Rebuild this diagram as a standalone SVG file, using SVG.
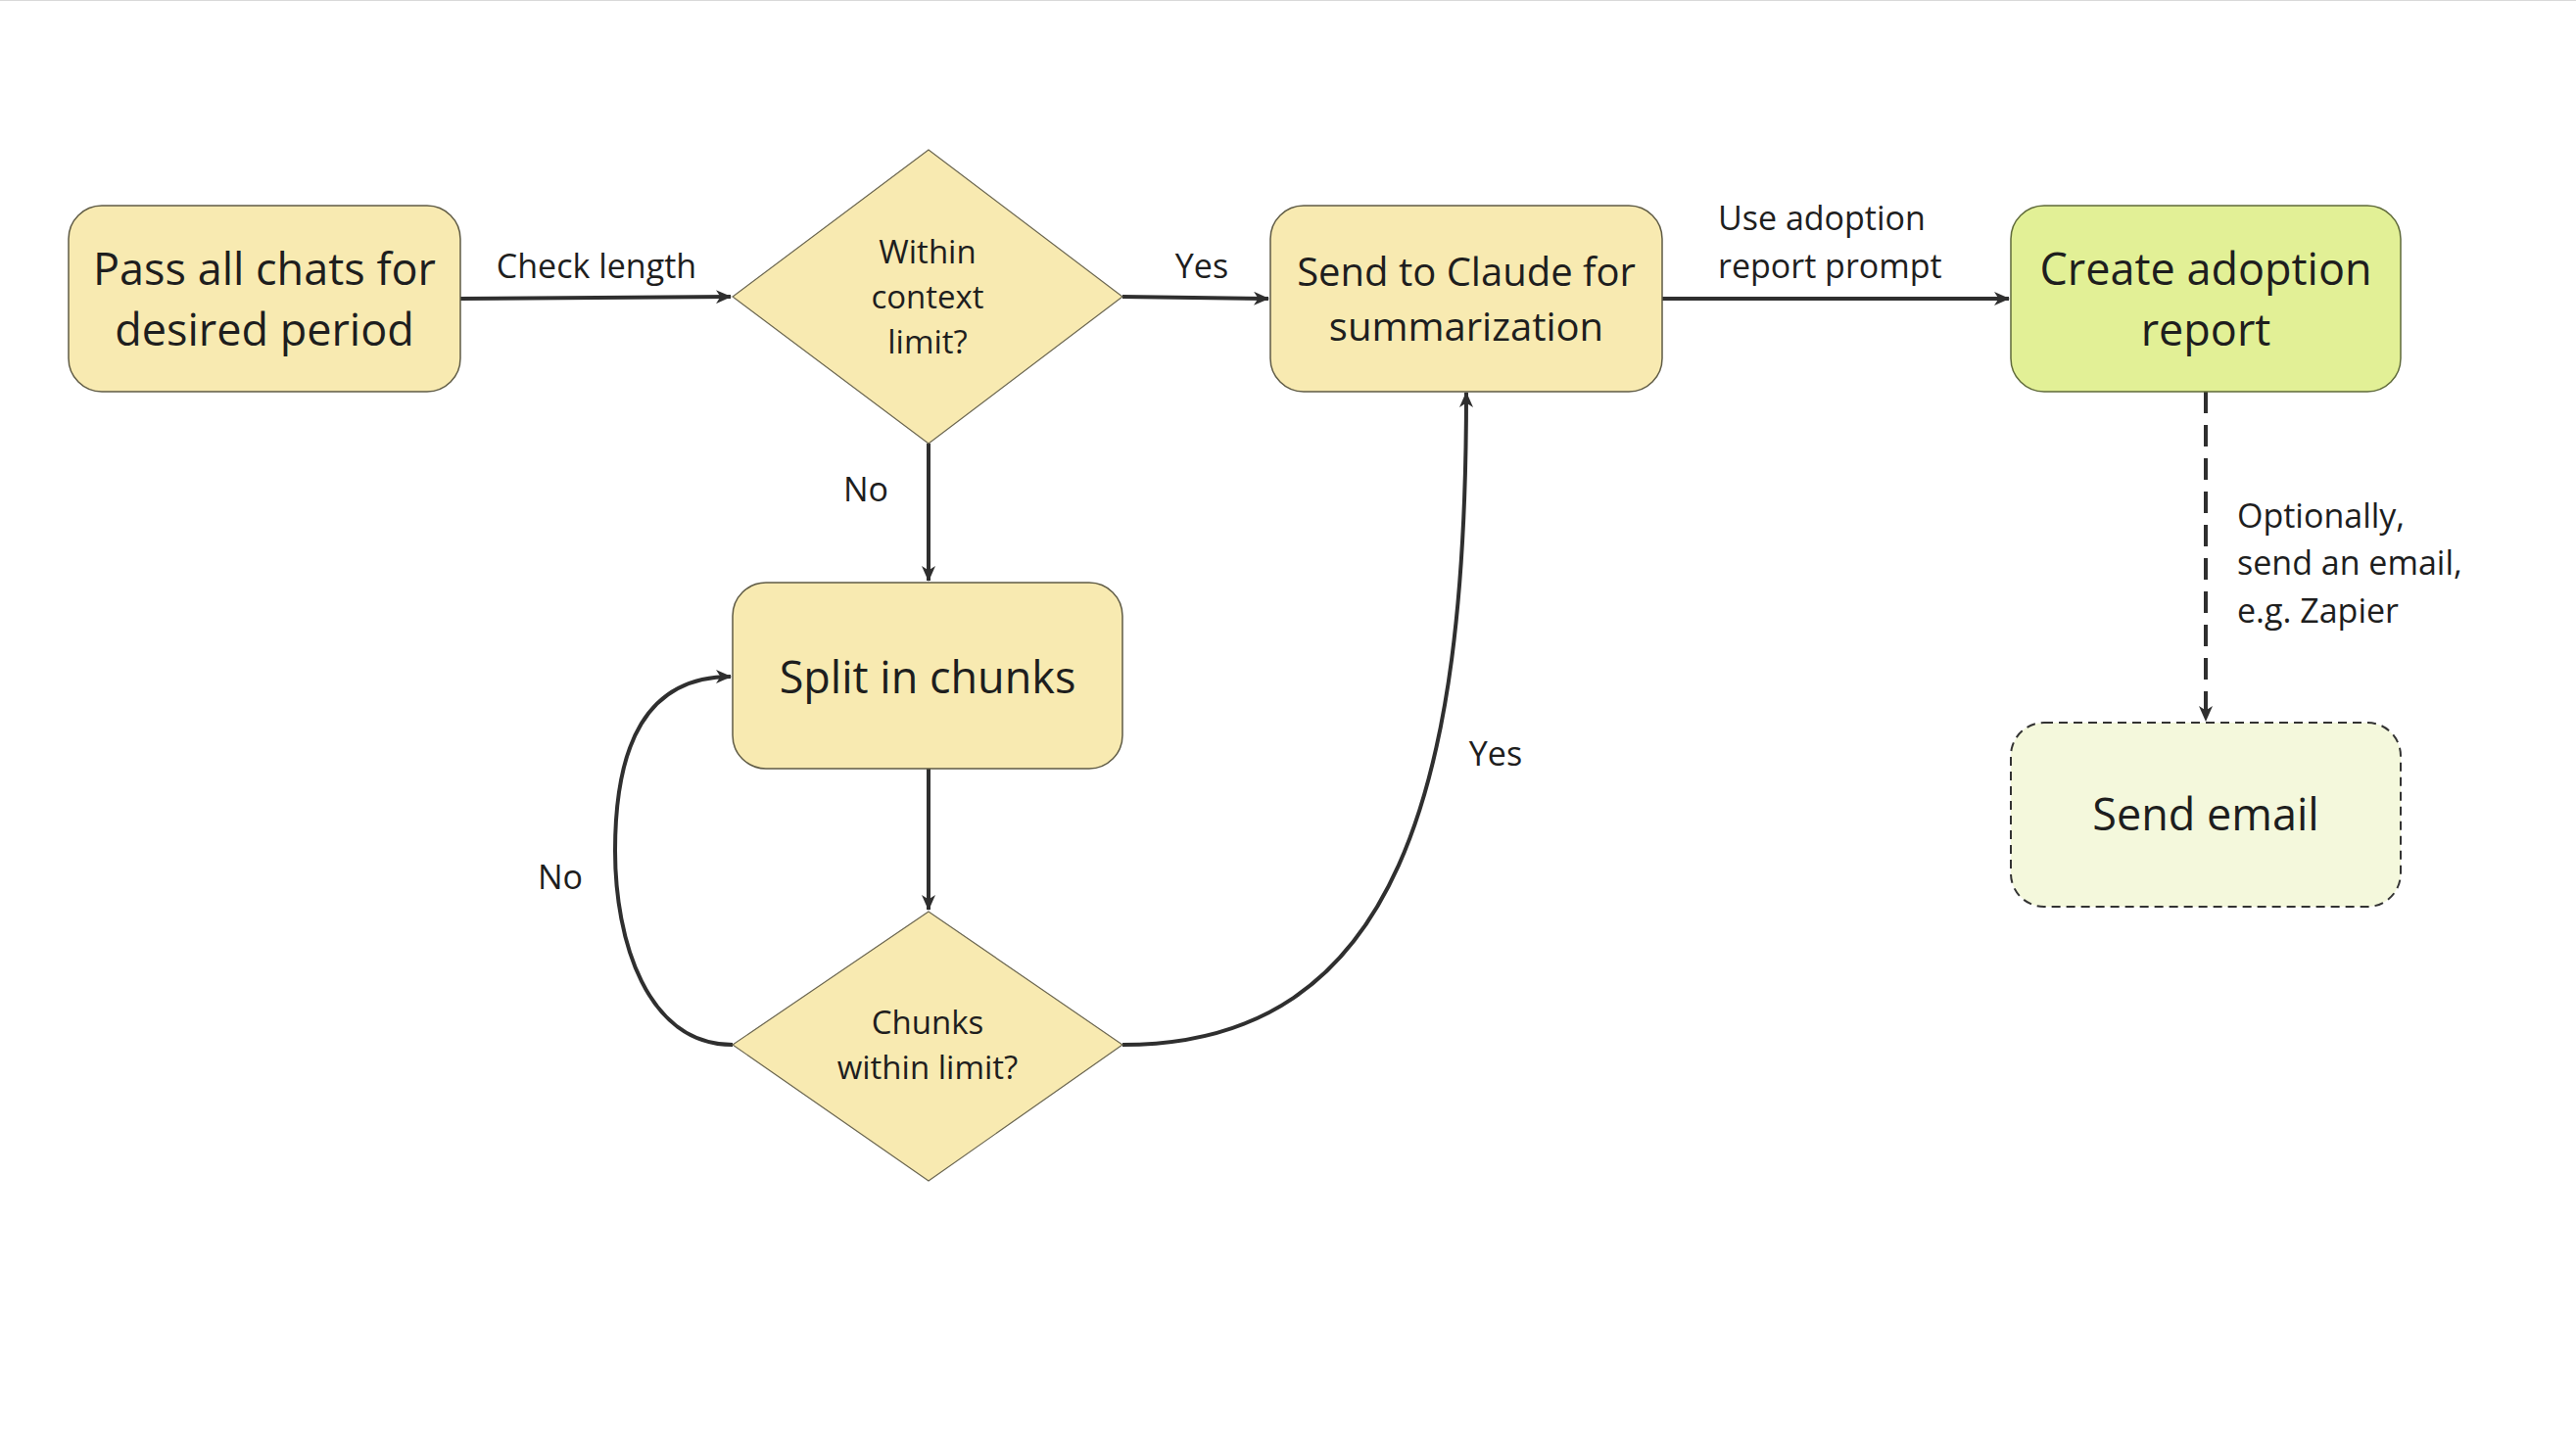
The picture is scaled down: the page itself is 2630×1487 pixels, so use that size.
<svg xmlns="http://www.w3.org/2000/svg" width="2630" height="1487" viewBox="0 0 2630 1487">
<style>
text{font-family:"Open Sans","Noto Sans","Liberation Sans",sans-serif;fill:#1e1e1e}
.n{font-size:45px;text-anchor:middle}
.c{font-size:40px;text-anchor:middle}
.d{font-size:33px;text-anchor:middle}
.l{font-size:34px}
.lm{font-size:34px;text-anchor:middle}
.box{fill:#F8EAB1;stroke:#5f5b45;stroke-width:1.5}
.dia{fill:#F8EAB1;stroke:#6b6650;stroke-width:1.2}
.edge{fill:none;stroke:#2f2f2f;stroke-width:4}
</style>
<defs>
<marker id="ah" viewBox="0 0 16 14" refX="15" refY="7" markerWidth="16" markerHeight="14" markerUnits="userSpaceOnUse" orient="auto">
<path d="M0,0 L16,7 L0,14 L4.5,7 Z" fill="#2f2f2f"/>
</marker>
</defs>
<rect width="2630" height="1487" fill="#ffffff"/>
<line x1="0" y1="0.5" x2="2630" y2="0.5" stroke="#d9d9d9" stroke-width="1"/>
<g id="connectors">
<path class="edge" d="M470,305 L746,303" marker-end="url(#ah)"/>
<path class="edge" d="M1146,303 L1295,305" marker-end="url(#ah)"/>
<path class="edge" d="M1697,305 L2051,305" marker-end="url(#ah)"/>
<path class="edge" d="M948,453 L948,593" marker-end="url(#ah)"/>
<path class="edge" d="M948,785 L948,929" marker-end="url(#ah)"/>
<path class="edge" d="M748,1067 C660,1067 628,960 628,869 C628,760 660,691 746,691" marker-end="url(#ah)"/>
<path class="edge" d="M1146,1067 C1430,1067 1497,800 1497,401" marker-end="url(#ah)"/>
<path class="edge" d="M2252,400 L2252,736" stroke-width="4.5" stroke-dasharray="22,12" marker-end="url(#ah)"/>
<text class="lm" x="609" y="284">Check length</text>
<text class="lm" x="1227" y="284">Yes</text>
<text class="l" x="1754" y="235">Use adoption</text>
<text class="l" x="1754" y="284">report prompt</text>
<text class="lm" x="884" y="512">No</text>
<text class="lm" x="572" y="908">No</text>
<text class="lm" x="1527" y="782">Yes</text>
<text class="l" x="2284" y="539">Optionally,</text>
<text class="l" x="2284" y="587">send an email,</text>
<text class="l" x="2284" y="636">e.g. Zapier</text>
</g>
<g id="pass">
<rect class="box" x="70" y="210" width="400" height="190" rx="34"/>
<text class="n" x="270" y="291">Pass all chats for</text>
<text class="n" x="270" y="353">desired period</text>
</g>
<g id="within">
<polygon class="dia" points="948,153 1146,303 948,453 748,303"/>
<text class="d" x="947" y="269">Within</text>
<text class="d" x="947" y="315">context</text>
<text class="d" x="947" y="361">limit?</text>
</g>
<g id="claude">
<rect class="box" x="1297" y="210" width="400" height="190" rx="34"/>
<text class="c" x="1497" y="292">Send to Claude for</text>
<text class="c" x="1497" y="348">summarization</text>
</g>
<g id="report">
<rect x="2053" y="210" width="398" height="190" rx="34" fill="#E2F096" stroke="#5f6a3a" stroke-width="1.5"/>
<text class="n" x="2252" y="291">Create adoption</text>
<text class="n" x="2252" y="353">report</text>
</g>
<g id="split">
<rect class="box" x="748" y="595" width="398" height="190" rx="34"/>
<text class="n" x="947" y="708">Split in chunks</text>
</g>
<g id="chunks">
<polygon class="dia" points="948,931 1146,1067 948,1206 748,1067"/>
<text class="d" x="947" y="1056">Chunks</text>
<text class="d" x="947" y="1102">within limit?</text>
</g>
<g id="email">
<rect x="2053" y="738" width="398" height="188" rx="34" fill="#F4F8DC" stroke="#333333" stroke-width="2" stroke-dasharray="9,6"/>
<text class="n" x="2252" y="848">Send email</text>
</g>
</svg>
